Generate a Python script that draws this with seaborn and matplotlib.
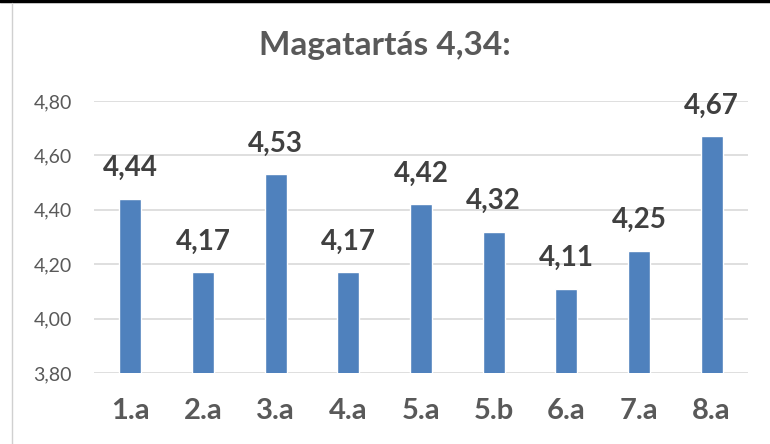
import matplotlib
matplotlib.use("Agg")
import matplotlib.pyplot as plt
import seaborn as sns
import pandas as pd

# data
classes = ["1.a", "2.a", "3.a", "4.a", "5.a", "5.b", "6.a", "7.a", "8.a"]
scores = [4.44, 4.17, 4.53, 4.17, 4.42, 4.32, 4.11, 4.25, 4.67]
yticks = [3.80, 4.00, 4.20, 4.40, 4.60, 4.80]
title = "Magatartás 4,34:"

sns.set_theme(style="white")
plt.rcParams['font.family'] = ['Lato', 'DejaVu Sans']

df = pd.DataFrame({"osztaly": classes, "atlag": scores})

fig = plt.figure(figsize=(7.7, 4.44), dpi=100)
ax = fig.add_axes([94 / 770, 1 - 373 / 444, (748 - 94) / 770, (373 - 101) / 444])

sns.barplot(data=df, x="osztaly", y="atlag", color="#4F81BD", width=0.3,
            saturation=1, ax=ax, zorder=3)

ax.set_ylim(3.80, 4.80)
ax.set_yticks(yticks)
ax.set_yticklabels([f"{v:.2f}".replace(".", ",") for v in yticks],
                   fontsize=14, color="#595959")
ax.tick_params(axis="y", length=0, pad=16)
ax.tick_params(axis="x", length=0, pad=18)
for lbl in ax.get_xticklabels():
    lbl.set_fontsize(21)
    lbl.set_fontweight("bold")
    lbl.set_color("#595959")
ax.grid(axis="y", color="#D9D9D9", linewidth=1.2, zorder=0)
sns.despine(ax=ax, left=True, top=True, right=True, bottom=True)
ax.set_xlabel("")
ax.set_ylabel("")

for i, v in enumerate(scores):
    ax.text(i, v + 0.065, f"{v:.2f}".replace(".", ","), ha="center", va="bottom",
            fontsize=20, fontweight="bold", color="#404040")

fig.text(0.5, 1 - 45 / 444, title, ha="center", va="center",
         fontsize=24, fontweight="bold", color="#595959")

# frame like the source screenshot
fig.add_artist(plt.Line2D([0, 1], [1 - 1 / 444, 1 - 1 / 444], color="black", linewidth=2.5))
fig.add_artist(plt.Line2D([12 / 770, 12 / 770], [0, 1 - 3 / 444], color="#D0D0D0", linewidth=1))

fig.savefig("out.png", dpi=100)
